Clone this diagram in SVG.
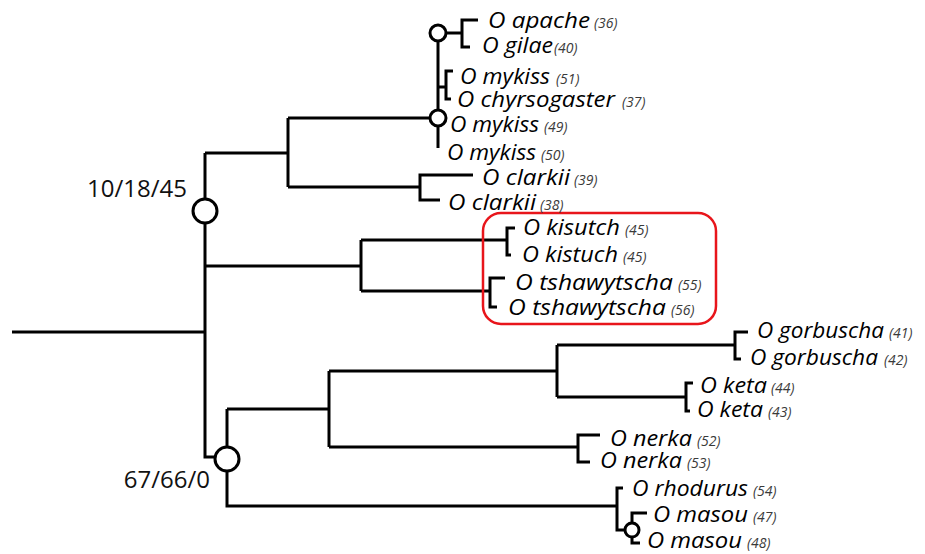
<svg xmlns="http://www.w3.org/2000/svg" width="925" height="554" viewBox="0 0 925 554">
  <style>
    .br { fill: none; stroke: #000; stroke-width: 3; stroke-linejoin: miter; stroke-linecap: butt; }
    .nd { fill: #fff; stroke: #000; stroke-width: 3; }
    .sp { font-family: "Open Sans", "Liberation Sans", sans-serif; font-style: italic; font-size: 21px; fill: #000; }
    .n { font-family: "Open Sans", "Liberation Sans", sans-serif; font-style: italic; font-size: 14px; fill: #3a3a3a; }
    .sup { font-family: "Open Sans", "Liberation Sans", sans-serif; font-size: 24px; fill: #111; }
    .hl { fill: none; stroke: #e8151b; stroke-width: 2.5; }
  </style>
  <rect width="925" height="554" fill="#fff"/>

  <!-- branches -->
  <g id="connectors" class="br">
    <path d="M12,332 H205"/>
    <path d="M205,153 V457 H215"/>
    <!-- upper clade -->
    <path d="M205,153 H288"/>
    <path d="M288,118 V187"/>
    <path d="M288,118 H430"/>
    <path d="M288,187 H420"/>
    <path d="M473,175 H420 V200 H440"/>
    <path d="M438,41 V110"/>
    <path d="M438,126 V148"/>
    <path d="M446,33 H462"/>
    <path d="M478,20 H462 V47 H470"/>
    <path d="M438,87 H446"/>
    <path d="M453,71 H446 V99 H451"/>
    <!-- kisutch / tshawytscha -->
    <path d="M205,266 H361"/>
    <path d="M361,240 V291"/>
    <path d="M361,240 H507"/>
    <path d="M515,228 H507 V255 H511"/>
    <path d="M361,291 H490"/>
    <path d="M505,278 H490 V307 H497"/>
    <!-- lower clade -->
    <path d="M227,409 V447"/>
    <path d="M227,471 V506 H617"/>
    <path d="M227,409 H329"/>
    <path d="M329,371 V447"/>
    <path d="M329,371 H557"/>
    <path d="M557,345 V397"/>
    <path d="M557,345 H735"/>
    <path d="M748,332 H735 V359 H741"/>
    <path d="M557,397 H686"/>
    <path d="M693,383 H686 V411 H690"/>
    <path d="M329,447 H578"/>
    <path d="M600,435 H578 V462 H590"/>
    <path d="M623,488 H617 V530 H625"/>
    <path d="M647,513 H632 V523"/>
    <path d="M632,537 V543 H640"/>
  </g>

  <!-- internal nodes -->
  <g id="node-salmo-root">
    <circle class="nd" cx="205" cy="211" r="12"/>
    <text class="sup" x="187" y="197" text-anchor="end">10/18/45</text>
  </g>
  <g id="node-pacific">
    <circle class="nd" cx="227" cy="459" r="12"/>
    <text class="sup" x="210" y="488" text-anchor="end">67/66/0</text>
  </g>
  <g id="node-trout"><circle class="nd" cx="438" cy="118" r="8"/></g>
  <g id="node-apache-gilae"><circle class="nd" cx="438" cy="33" r="8"/></g>
  <g id="node-masou"><circle class="nd" cx="632" cy="530" r="7"/></g>

  <!-- highlight box -->
  <g id="highlight"><rect class="hl" x="483" y="213" width="233" height="111" rx="18" ry="18"/></g>

  <!-- leaves -->
  <g id="leaf-apache"><text class="sp" x="488" y="28" textLength="102" lengthAdjust="spacingAndGlyphs">O apache</text><text class="n" x="594" y="28">(36)</text></g>
  <g id="leaf-gilae"><text class="sp" x="482" y="53" textLength="71" lengthAdjust="spacingAndGlyphs">O gilae</text><text class="n" x="554" y="53">(40)</text></g>
  <g id="leaf-mykiss51"><text class="sp" x="460" y="84" textLength="90" lengthAdjust="spacingAndGlyphs">O mykiss</text><text class="n" x="556" y="84">(51)</text></g>
  <g id="leaf-chyrsogaster"><text class="sp" x="457" y="107" textLength="158" lengthAdjust="spacingAndGlyphs">O chyrsogaster</text><text class="n" x="622" y="107">(37)</text></g>
  <g id="leaf-mykiss49"><text class="sp" x="450" y="132" textLength="89" lengthAdjust="spacingAndGlyphs">O mykiss</text><text class="n" x="544" y="132">(49)</text></g>
  <g id="leaf-mykiss50"><text class="sp" x="447" y="160" textLength="89" lengthAdjust="spacingAndGlyphs">O mykiss</text><text class="n" x="541" y="160">(50)</text></g>
  <g id="leaf-clarkii39"><text class="sp" x="482" y="185" textLength="88" lengthAdjust="spacingAndGlyphs">O clarkii</text><text class="n" x="574" y="185">(39)</text></g>
  <g id="leaf-clarkii38"><text class="sp" x="448" y="210" textLength="88" lengthAdjust="spacingAndGlyphs">O clarkii</text><text class="n" x="540" y="210">(38)</text></g>
  <g id="leaf-kisutch"><text class="sp" x="523" y="235" textLength="97" lengthAdjust="spacingAndGlyphs">O kisutch</text><text class="n" x="625" y="235">(45)</text></g>
  <g id="leaf-kistuch"><text class="sp" x="522" y="262" textLength="96" lengthAdjust="spacingAndGlyphs">O kistuch</text><text class="n" x="623" y="262">(45)</text></g>
  <g id="leaf-tshawytscha55"><text class="sp" x="515" y="290" textLength="158" lengthAdjust="spacingAndGlyphs">O tshawytscha</text><text class="n" x="678" y="290">(55)</text></g>
  <g id="leaf-tshawytscha56"><text class="sp" x="508" y="315" textLength="158" lengthAdjust="spacingAndGlyphs">O tshawytscha</text><text class="n" x="671" y="315">(56)</text></g>
  <g id="leaf-gorbuscha41"><text class="sp" x="757" y="338" textLength="127" lengthAdjust="spacingAndGlyphs">O gorbuscha</text><text class="n" x="889" y="338">(41)</text></g>
  <g id="leaf-gorbuscha42"><text class="sp" x="750" y="365" textLength="128" lengthAdjust="spacingAndGlyphs">O gorbuscha</text><text class="n" x="884" y="365">(42)</text></g>
  <g id="leaf-keta44"><text class="sp" x="700" y="393" textLength="67" lengthAdjust="spacingAndGlyphs">O keta</text><text class="n" x="771" y="393">(44)</text></g>
  <g id="leaf-keta43"><text class="sp" x="697" y="417" textLength="66" lengthAdjust="spacingAndGlyphs">O keta</text><text class="n" x="768" y="417">(43)</text></g>
  <g id="leaf-nerka52"><text class="sp" x="610" y="446" textLength="82" lengthAdjust="spacingAndGlyphs">O nerka</text><text class="n" x="697" y="446">(52)</text></g>
  <g id="leaf-nerka53"><text class="sp" x="600" y="468" textLength="82" lengthAdjust="spacingAndGlyphs">O nerka</text><text class="n" x="687" y="468">(53)</text></g>
  <g id="leaf-rhodurus"><text class="sp" x="632" y="496" textLength="116" lengthAdjust="spacingAndGlyphs">O rhodurus</text><text class="n" x="753" y="496">(54)</text></g>
  <g id="leaf-masou47"><text class="sp" x="653" y="522" textLength="95" lengthAdjust="spacingAndGlyphs">O masou</text><text class="n" x="753" y="522">(47)</text></g>
  <g id="leaf-masou48"><text class="sp" x="647" y="548" textLength="95" lengthAdjust="spacingAndGlyphs">O masou</text><text class="n" x="747" y="548">(48)</text></g>
</svg>
